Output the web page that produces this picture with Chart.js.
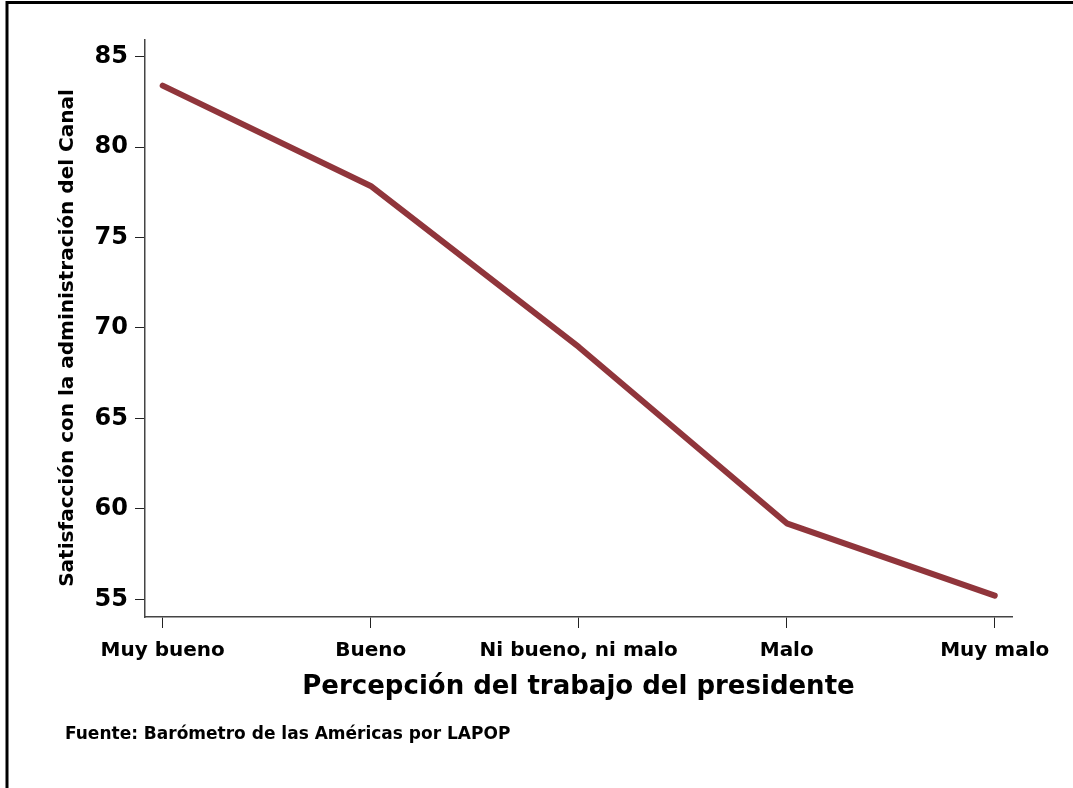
<!DOCTYPE html>
<html>
<head>
<meta charset="utf-8">
<script src="https://cdn.jsdelivr.net/npm/chart.js@4"></script>
<style>
    html, body {
        margin: 0;
        padding: 0;
        background: #fff;
    }
    #wrap {
        position: relative;
        width: 1073px;
        height: 788px;
    }
</style>
</head>
<body>
<div id="wrap"><canvas id="chart" width="1073" height="788"></canvas></div>
<script>
// Data
const categories = ['Muy bueno', 'Bueno', 'Ni bueno, ni malo', 'Malo', 'Muy malo'];
const satisfaction = [83.4, 77.85, 68.95, 59.2, 55.2];
const yTicks = [55, 60, 65, 70, 75, 80, 85];

const xTitle = 'Percepción del trabajo del presidente';
const yTitle = 'Satisfacción con la administración del Canal';
const source = 'Fuente: Barómetro de las Américas por LAPOP';

const FONT = '"DejaVu Sans", sans-serif';

// Frame + axis titles + source note
const textPlugin = {
    id: 'extraText',
    afterDraw: (chart) => {
        const ctx = chart.ctx;
        const area = chart.chartArea;
        ctx.save();

        // top and left frame lines
        ctx.strokeStyle = '#000';
        ctx.lineWidth = 3;
        ctx.beginPath();
        ctx.moveTo(7, 788);
        ctx.lineTo(7, 2.5);
        ctx.lineTo(1073, 2.5);
        ctx.stroke();

        ctx.fillStyle = '#000';
        ctx.textAlign = 'center';
        ctx.textBaseline = 'alphabetic';

        ctx.font = 'bold 26px ' + FONT;
        ctx.fillText(xTitle, (area.left + area.right) / 2, 694);

        ctx.save();
        ctx.translate(73, 338);
        ctx.rotate(-Math.PI / 2);
        ctx.font = 'bold 20px ' + FONT;
        ctx.fillText(yTitle, 0, 0);
        ctx.restore();

        ctx.textAlign = 'left';
        ctx.font = 'bold 17px ' + FONT;
        ctx.fillText(source, 65, 739);

        ctx.restore();
    },
};

const config = {
    type: 'line',
    data: {
        datasets: [
            {
                data: satisfaction.map((v, i) => ({ x: i, y: v })),
                borderColor: '#90353b',
                borderWidth: 6,
                borderCapStyle: 'round',
                borderJoinStyle: 'round',
                pointRadius: 0,
                fill: false,
                tension: 0,
            },
        ],
    },
    options: {
        responsive: false,
        animation: false,
        devicePixelRatio: 1,
        layout: {
            padding: { left: 0, right: 61, top: 40, bottom: 0 },
        },
        plugins: {
            legend: { display: false },
            tooltip: { enabled: false },
        },
        scales: {
            x: {
                type: 'linear',
                min: -0.085,
                max: 4.083,
                afterBuildTicks: (scale) => {
                    scale.ticks = categories.map((c, i) => ({ value: i }));
                },
                afterFit: (scale) => {
                    scale.height = 171;
                },
                border: { display: true, color: '#444', width: 1.5 },
                grid: {
                    drawOnChartArea: false,
                    drawTicks: true,
                    tickLength: 11,
                    tickColor: '#222',
                    tickWidth: 1,
                },
                ticks: {
                    autoSkip: false,
                    maxRotation: 0,
                    padding: 11,
                    color: '#000',
                    font: { family: FONT, size: 20, weight: 'bold' },
                    callback: (value) => categories[value],
                },
            },
            y: {
                min: 54.02,
                max: 85.92,
                afterBuildTicks: (scale) => {
                    scale.ticks = yTicks.map((v) => ({ value: v }));
                },
                afterFit: (scale) => {
                    scale.width = 145;
                },
                border: { display: true, color: '#444', width: 1.5 },
                grid: {
                    drawOnChartArea: false,
                    drawTicks: true,
                    tickLength: 10,
                    tickColor: '#222',
                    tickWidth: 1,
                },
                ticks: {
                    padding: 7,
                    color: '#000',
                    font: { family: FONT, size: 24, weight: 'bold' },
                },
            },
        },
    },
    plugins: [textPlugin],
};

const ctx = document.getElementById('chart').getContext('2d');
new Chart(ctx, config);
</script>
</body>
</html>
